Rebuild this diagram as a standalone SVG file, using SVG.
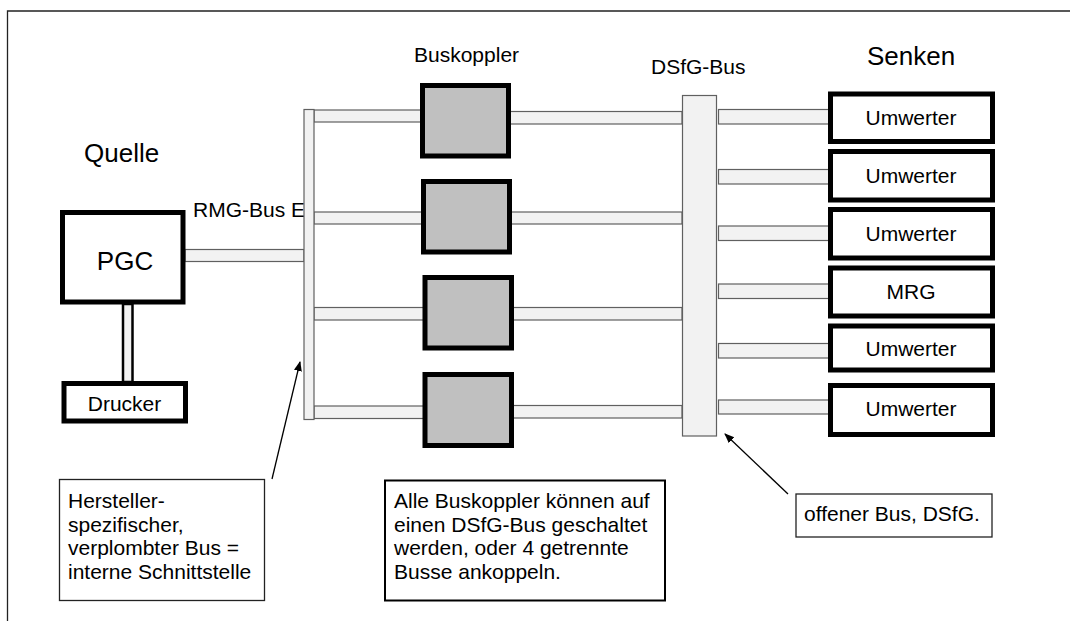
<svg xmlns="http://www.w3.org/2000/svg" width="1070" height="621" viewBox="0 0 1070 621">
  <style>
    text { font-family: "Liberation Sans", Arial, sans-serif; fill: #000; }
    .t21 { font-size: 21px; }
    .t26 { font-size: 26px; }
    .mid { text-anchor: middle; }
    .bar { fill: #f2f2f2; stroke: #606060; stroke-width: 1.2; }
    .coupler { fill: #c0c0c0; stroke: #000; stroke-width: 5; }
    .unit { fill: #fff; stroke: #000; stroke-width: 5; }
    .note { fill: #fff; stroke: #222; stroke-width: 1.3; }
    .pointer { stroke: #000; stroke-width: 1.3; fill: none; }
  </style>
  <defs>
    <marker id="arrow" viewBox="0 0 10 10" refX="9" refY="5" markerWidth="10" markerHeight="10" markerUnits="userSpaceOnUse" orient="auto">
      <path d="M0,1 L10,5 L0,9 z" fill="#000"/>
    </marker>
  </defs>
  <rect width="1070" height="621" fill="#fff"/>

  <!-- page frame -->
  <path d="M7.5,621 V11 H1070" fill="none" stroke="#222" stroke-width="1.3"/>

  <!-- titles -->
  <text class="t26" x="84" y="162">Quelle</text>
  <text class="t26 mid" x="911" y="65">Senken</text>
  <text class="t21" x="414" y="62">Buskoppler</text>
  <text class="t21" x="651" y="74">DSfG-Bus</text>
  <text class="t21" x="193" y="217">RMG-Bus E</text>

  <!-- bus lines and cables -->
  <g id="connectors">
    <!-- PGC to RMG bus -->
    <rect class="bar" x="185" y="249.5" width="119" height="12"/>
    <!-- PGC to printer -->
    <rect x="123" y="304" width="9.5" height="78" fill="#f2f2f2" stroke="#000" stroke-width="2.5"/>
    <!-- RMG bus to couplers -->
    <rect class="bar" x="314" y="110" width="108" height="12"/>
    <rect class="bar" x="314" y="212" width="108" height="12"/>
    <rect class="bar" x="314" y="307.5" width="110" height="12.5"/>
    <rect class="bar" x="314" y="406" width="110" height="12.5"/>
    <!-- couplers to DSfG bus -->
    <rect class="bar" x="509" y="111.5" width="173" height="12.5"/>
    <rect class="bar" x="510" y="212" width="172" height="12"/>
    <rect class="bar" x="512" y="307.5" width="170" height="12.5"/>
    <rect class="bar" x="512" y="405.5" width="170" height="12.5"/>
    <!-- DSfG bus to sinks -->
    <rect class="bar" x="718.5" y="109.5" width="111" height="14.5"/>
    <rect class="bar" x="718.5" y="169.5" width="111" height="14.5"/>
    <rect class="bar" x="718.5" y="226" width="111" height="14.5"/>
    <rect class="bar" x="718.5" y="284" width="111" height="14.5"/>
    <rect class="bar" x="718.5" y="343.5" width="111" height="14.5"/>
    <rect class="bar" x="718.5" y="400" width="111" height="14"/>
    <!-- RMG bus E (vertical) -->
    <rect class="bar" x="304" y="109.5" width="10" height="310"/>
    <!-- DSfG bus (vertical) -->
    <rect class="bar" x="682.5" y="95.5" width="34" height="340.5"/>
    <!-- annotation pointers -->
    <line class="pointer" x1="272" y1="479" x2="300" y2="362" marker-end="url(#arrow)"/>
    <line class="pointer" x1="788" y1="494" x2="725" y2="434" marker-end="url(#arrow)"/>
  </g>

  <g id="pgc">
    <rect class="unit" x="62.5" y="212.5" width="120.5" height="89.5"/>
    <text class="t26 mid" x="125" y="270">PGC</text>
  </g>
  <g id="drucker">
    <rect class="unit" x="64" y="383.5" width="121.5" height="37.5"/>
    <text class="t21 mid" x="124.5" y="411">Drucker</text>
  </g>

  <g id="buskoppler-1"><rect class="coupler" x="422.5" y="85.5" width="86" height="70.5"/></g>
  <g id="buskoppler-2"><rect class="coupler" x="423.5" y="181.5" width="86" height="70.5"/></g>
  <g id="buskoppler-3"><rect class="coupler" x="425" y="277.5" width="86.5" height="70.5"/></g>
  <g id="buskoppler-4"><rect class="coupler" x="425" y="374.5" width="86.5" height="71"/></g>

  <g id="senke-1">
    <rect class="unit" x="830.5" y="94" width="162" height="47.5"/>
    <text class="t21 mid" x="911" y="125">Umwerter</text>
  </g>
  <g id="senke-2">
    <rect class="unit" x="830.5" y="151.5" width="162" height="48.5"/>
    <text class="t21 mid" x="911" y="183">Umwerter</text>
  </g>
  <g id="senke-3">
    <rect class="unit" x="830.5" y="209.5" width="162" height="48.5"/>
    <text class="t21 mid" x="911" y="241">Umwerter</text>
  </g>
  <g id="senke-4">
    <rect class="unit" x="830.5" y="268" width="162" height="48"/>
    <text class="t21 mid" x="911" y="299">MRG</text>
  </g>
  <g id="senke-5">
    <rect class="unit" x="830.5" y="326" width="162" height="44"/>
    <text class="t21 mid" x="911" y="356">Umwerter</text>
  </g>
  <g id="senke-6">
    <rect class="unit" x="830.5" y="385.5" width="162" height="49"/>
    <text class="t21 mid" x="911" y="416">Umwerter</text>
  </g>

  <g id="note-rmg">
    <rect class="note" x="59.5" y="479.5" width="205" height="121"/>
    <text class="t21" x="68" y="508">Hersteller-</text>
    <text class="t21" x="68" y="532">spezifischer,</text>
    <text class="t21" x="68" y="555">verplombter Bus =</text>
    <text class="t21" x="68" y="579">interne Schnittstelle</text>
  </g>
  <g id="note-koppler">
    <rect x="385" y="480.5" width="280" height="120" fill="#fff" stroke="#000" stroke-width="2"/>
    <text class="t21" x="394" y="508">Alle Buskoppler können auf</text>
    <text class="t21" x="394" y="532">einen DSfG-Bus geschaltet</text>
    <text class="t21" x="394" y="555">werden, oder 4 getrennte</text>
    <text class="t21" x="394" y="579">Busse ankoppeln.</text>
  </g>
  <g id="note-dsfg">
    <rect class="note" x="796" y="494" width="196" height="43"/>
    <text class="t21" x="804" y="521">offener Bus, DSfG.</text>
  </g>
</svg>
